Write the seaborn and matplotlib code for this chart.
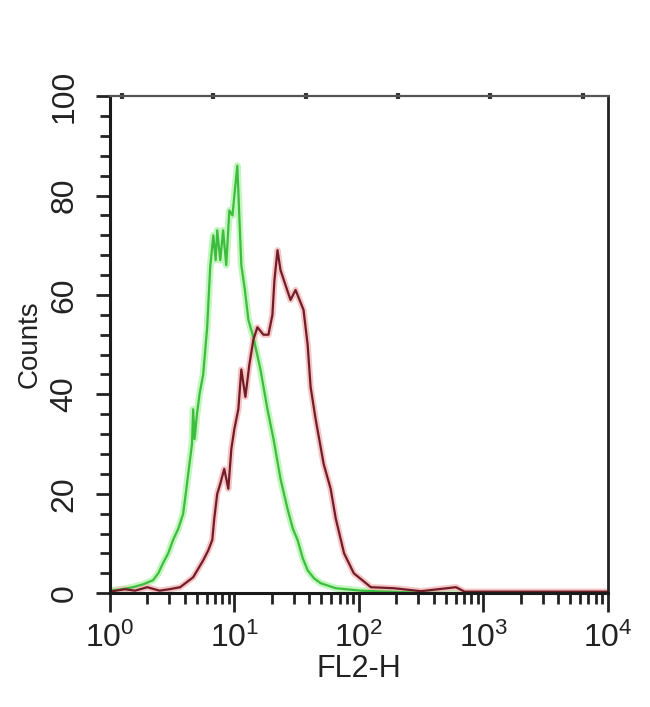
import matplotlib
matplotlib.use("Agg")
import matplotlib.pyplot as plt
import seaborn as sns
from matplotlib.ticker import MultipleLocator, LogLocator, NullLocator

# ==========================================
# DATA (FL2-H channel value, counts)
# ==========================================

green_fl2h = [
    1.00, 1.26, 1.53, 1.86, 2.22, 2.45, 2.67, 2.94, 3.22, 3.55,
    3.88, 4.07, 4.26, 4.57, 4.67, 4.79, 5.01, 5.25, 5.62, 6.05,
    6.40, 6.78, 7.08, 7.29, 7.71, 8.13, 8.61, 9.12, 9.66, 10.19,
    10.57, 10.96, 11.38, 12.16, 12.97, 14.22, 16.22, 18.45, 20.65, 23.50,
    26.73, 29.51, 32.21, 35.48, 38.82, 43.65, 49.43, 65.31, 103.8, 218.8,
    501.0, 10000.0
]
green_counts = [
    0.5, 0.8, 1.2, 1.8, 2.6, 4.0, 6.0, 8.0, 10.7, 13.0,
    16.0, 20.0, 24.0, 30.0, 37.0, 31.0, 36.0, 40.0, 44.0, 53.5,
    65.6, 72.0, 67.0, 73.0, 67.0, 73.0, 66.0, 77.0, 76.0, 82.0,
    86.0, 76.0, 66.0, 61.0, 55.0, 51.5, 45.0, 37.0, 31.0, 23.0,
    17.0, 13.0, 10.7, 7.0, 4.6, 3.0, 2.0, 1.0, 0.5, 0.2,
    0.0, 0.0
]

red_fl2h = [
    1.00, 1.32, 1.59, 2.00, 2.51, 3.02, 3.67, 4.67, 5.62, 6.17,
    6.65, 6.90, 7.29, 7.71, 8.30, 8.95, 9.46, 10.00, 10.77, 11.38,
    12.27, 13.21, 14.22, 15.32, 17.14, 18.79, 20.23, 21.00, 22.23, 23.50,
    25.77, 28.28, 31.05, 35.97, 38.80, 41.00, 45.00, 52.20, 59.40, 65.30,
    76.20, 91.20, 125.0, 190.5, 316.0, 603.0, 708.0, 1995.0, 10000.0
]
red_counts = [
    0.3, 0.8, 0.5, 1.2, 0.5, 0.8, 1.2, 3.2, 6.6, 8.6,
    10.7, 15.0, 20.0, 22.0, 25.0, 21.0, 29.0, 33.0, 37.0, 45.0,
    39.5, 46.0, 51.0, 53.5, 52.0, 52.0, 56.0, 63.0, 69.0, 65.0,
    62.0, 59.0, 61.0, 57.0, 50.0, 41.5, 35.0, 26.0, 21.0, 15.0,
    8.0, 4.0, 1.2, 1.0, 0.4, 1.2, 0.3, 0.3, 0.3
]

y_ticks = [0, 20, 40, 60, 80, 100]
top_marks = [1.25, 6.78, 37.4, 206.5, 1138.0, 6281.0]

# ==========================================
# STYLE
# ==========================================

sns.set_style("ticks")
plt.rcParams["font.family"] = ["Liberation Sans", "DejaVu Sans"]
plt.rcParams["axes.linewidth"] = 2.0

fig = plt.figure(figsize=(6.5, 7.07), dpi=100)
ax = fig.add_axes([0.169, 0.161, 0.766, 0.703])

# ==========================================
# CURVES (soft halo + core line)
# ==========================================

sns.lineplot(x=green_fl2h, y=green_counts, ax=ax, estimator=None,
             color="#b9f5b3", linewidth=5, alpha=0.85)
sns.lineplot(x=red_fl2h, y=red_counts, ax=ax, estimator=None,
             color="#f2b8b8", linewidth=4.5, alpha=0.8)
sns.lineplot(x=green_fl2h, y=green_counts, ax=ax, estimator=None,
             color="#3dbd3d", linewidth=1.6)
sns.lineplot(x=red_fl2h, y=red_counts, ax=ax, estimator=None,
             color="#731c28", linewidth=1.6)

# ==========================================
# AXES
# ==========================================

ax.set_xscale("log")
ax.set_xlim(1, 10000)
ax.set_ylim(0, 100)

ax.xaxis.set_major_locator(LogLocator(base=10))
ax.xaxis.set_minor_locator(LogLocator(base=10, subs=range(2, 10)))
ax.set_yticks(y_ticks)
ax.set_yticklabels([str(v) for v in y_ticks])
ax.yaxis.set_minor_locator(MultipleLocator(4))

ax.tick_params(axis="x", which="major", length=14, width=2.0,
               labelsize=23, pad=7, colors="#222222")
ax.tick_params(axis="x", which="minor", length=8, width=2.0,
               colors="#222222")
ax.tick_params(axis="y", which="major", length=10, width=2.0,
               labelsize=23, pad=12, labelrotation=90, colors="#222222")
ax.tick_params(axis="y", which="minor", length=7, width=2.0,
               colors="#222222")
for lbl in ax.get_yticklabels():
    lbl.set_verticalalignment("center")

for side in ["left", "bottom"]:
    ax.spines[side].set_color("#1a1a1a")
    ax.spines[side].set_linewidth(2.2)
ax.spines["top"].set_color("#555555")
ax.spines["top"].set_linewidth(1.6)
ax.spines["right"].set_color("#222222")
ax.spines["right"].set_linewidth(2.0)

# small marks on the top edge
sec = ax.secondary_xaxis("top")
sec.set_xticks(top_marks)
sec.set_xticklabels([""] * len(top_marks))
sec.xaxis.set_minor_locator(NullLocator())
sec.tick_params(axis="x", direction="inout", length=5, width=3,
                colors="#333333")
sec.spines["top"].set_visible(False)

ax.set_xlabel("FL2-H", fontsize=22, color="#222222", labelpad=0)
ax.set_ylabel("Counts", fontsize=20, color="#222222", labelpad=5)

fig.savefig("out.png", dpi=100, facecolor="white")
